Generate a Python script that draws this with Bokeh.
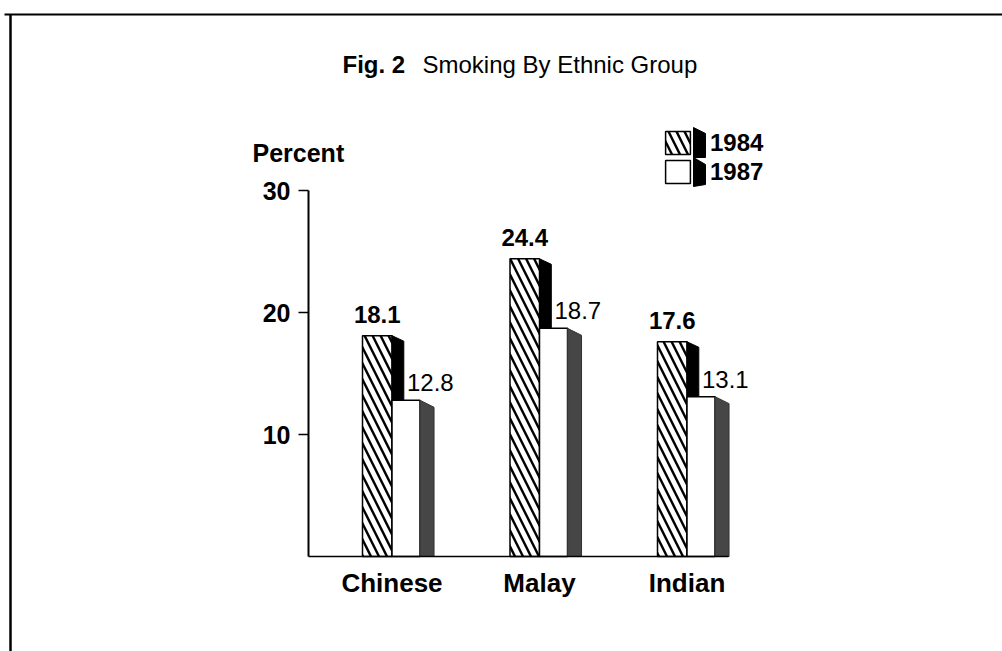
from bokeh.plotting import figure
from bokeh.models import (Range1d, LinearAxis, FixedTicker, ColumnDataSource, LabelSet,
                          Label, Legend, LegendItem)
from bokeh.core.properties import value
from bokeh.embed import file_html
from bokeh.resources import INLINE

# ---------------- data ----------------
groups = ["Chinese", "Malay", "Indian"]
y1984 = [18.1, 24.4, 17.6]
y1987 = [12.8, 18.7, 13.1]
series = ["1984", "1987"]
y_ticks = [10, 20, 30]
title_bold = "Fig. 2"
title_rest = "Smoking By Ethnic Group"
y_title = "Percent"

# ---------------- layout constants (pixels of the page) ----------------
W, H = 1002, 651
UX = 147.5            # px per category step
X0PX = 539 - 2 * UX   # pixel of x = 0
UY = 12.2             # px per percent
BASEPX = 556          # pixel row of 0 %
FONT = "Liberation Sans"


def px2x(px):
    return (px - X0PX) / UX


def py2y(py):
    return (BASEPX - py) / UY


pos = [i + 1 for i in range(len(groups))]
BW1, BW2 = 0.2, 0.19      # bar widths (category units)
D1, D2 = 0.08, 0.095      # side depth
S1, S2 = 0.45, 0.57       # side slant (percent units)

src = ColumnDataSource(dict(
    x=pos, g=groups, a=y1984, b=y1987,
    xa=[p - BW1 / 2 for p in pos],
    xb=[p + BW2 / 2 for p in pos],
    la=[f"{v:.1f}" for v in y1984],
    lb=[f"{v:.1f}" for v in y1987],
))

p = figure(width=W, height=H, min_border=0, output_backend="svg", toolbar_location=None,
           x_range=Range1d(px2x(0), px2x(W)), y_range=Range1d(py2y(H), py2y(0)),
           x_axis_type=None, y_axis_type=None)
p.outline_line_color = None
p.background_fill_color = "white"
p.border_fill_color = "white"

# page frame lines
p.line([px2x(4), px2x(W)], [py2y(14), py2y(14)], line_color="black", line_width=2)
p.line([px2x(10), px2x(10)], [py2y(14), py2y(H)], line_color="black", line_width=2.5)

# 1984 hatched bars
r1 = p.vbar(x="xa", width=BW1, top="a", bottom=0, source=src,
            fill_color="white", line_color="black", line_width=1.5,
            hatch_pattern="\\", hatch_scale=16, hatch_weight=2.4, hatch_color="black")
# 1984 side faces (black)
p.patches(xs=[[x, x + D1, x + D1, x] for x in pos],
          ys=[[v, v - S1, 0, 0] for v in y1984],
          fill_color="black", line_color="black", line_width=1)
# 1987 white bars
r2 = p.vbar(x="xb", width=BW2, top="b", bottom=0, source=src,
            fill_color="white", line_color="black", line_width=1.5)
# 1987 side faces (dark grey)
p.patches(xs=[[x + BW2, x + BW2 + D2, x + BW2 + D2, x + BW2] for x in pos],
          ys=[[v, v - S2, 0, 0] for v in y1987],
          fill_color="#464646", line_color="#333333", line_width=1)

# value labels
p.add_layout(LabelSet(x="xa", y="a", text="la", source=src, text_align="center",
                      text_baseline="alphabetic", y_offset=13, text_font=value(FONT),
                      text_font_style="bold", text_font_size="24px", text_color="black"))
p.add_layout(LabelSet(x="x", y="b", text="lb", source=src, text_align="left",
                      text_baseline="alphabetic", x_offset=15, y_offset=9, text_font=value(FONT),
                      text_font_size="24px", text_color="black"))

# axes
yaxis = LinearAxis(fixed_location=px2x(308), bounds=(0, 30),
                   ticker=FixedTicker(ticks=y_ticks),
                   major_tick_out=10, major_tick_in=0, minor_tick_out=0, minor_tick_in=0,
                   axis_line_width=2, major_tick_line_width=1.5, major_label_standoff=8,
                   major_label_text_font=FONT, major_label_text_font_style="bold",
                   major_label_text_font_size="25px", major_label_text_color="black")
p.add_layout(yaxis, "left")

xaxis = LinearAxis(fixed_location=0, bounds=(px2x(308), px2x(728)),
                   ticker=FixedTicker(ticks=pos),
                   major_label_overrides={x: g for x, g in zip(pos, groups)},
                   major_tick_out=0, major_tick_in=0, minor_tick_out=0, minor_tick_in=0,
                   axis_line_width=1.5, major_label_standoff=11,
                   major_label_text_font=FONT, major_label_text_font_style="bold",
                   major_label_text_font_size="26px", major_label_text_color="black")
p.add_layout(xaxis, "below")

# titles
p.add_layout(Label(x=px2x(342), y=py2y(64), text=title_bold, text_font=FONT,
                   text_font_style="bold", text_font_size="24px", text_baseline="alphabetic",
                   text_color="black"))
p.add_layout(Label(x=px2x(422), y=py2y(64), text=title_rest, text_font=FONT,
                   text_font_size="24px", text_baseline="alphabetic", text_color="black"))
p.add_layout(Label(x=px2x(252), y=py2y(152), text=y_title, text_font=FONT,
                   text_font_style="bold", text_font_size="25px", text_baseline="alphabetic",
                   text_color="black"))

# legend
legend = Legend(items=[LegendItem(label=series[0], renderers=[r1]),
                       LegendItem(label=series[1], renderers=[r2])],
                location=(662, H - 186), orientation="vertical",
                glyph_width=31, glyph_height=29, label_height=29, spacing=0,
                padding=0, margin=0, label_standoff=17,
                border_line_color=None, background_fill_alpha=0,
                label_text_font=FONT, label_text_font_style="bold",
                label_text_font_size="24px", label_text_color="black")
p.add_layout(legend)
# legend 3-D sides
p.patches(xs=[[px2x(693), px2x(705), px2x(705), px2x(693)]] * 2,
          ys=[[py2y(127), py2y(133), py2y(157), py2y(157)],
              [py2y(157), py2y(164), py2y(184), py2y(186)]],
          fill_color="black", line_color="black")

open("out.html", "w").write(file_html(p, INLINE))
